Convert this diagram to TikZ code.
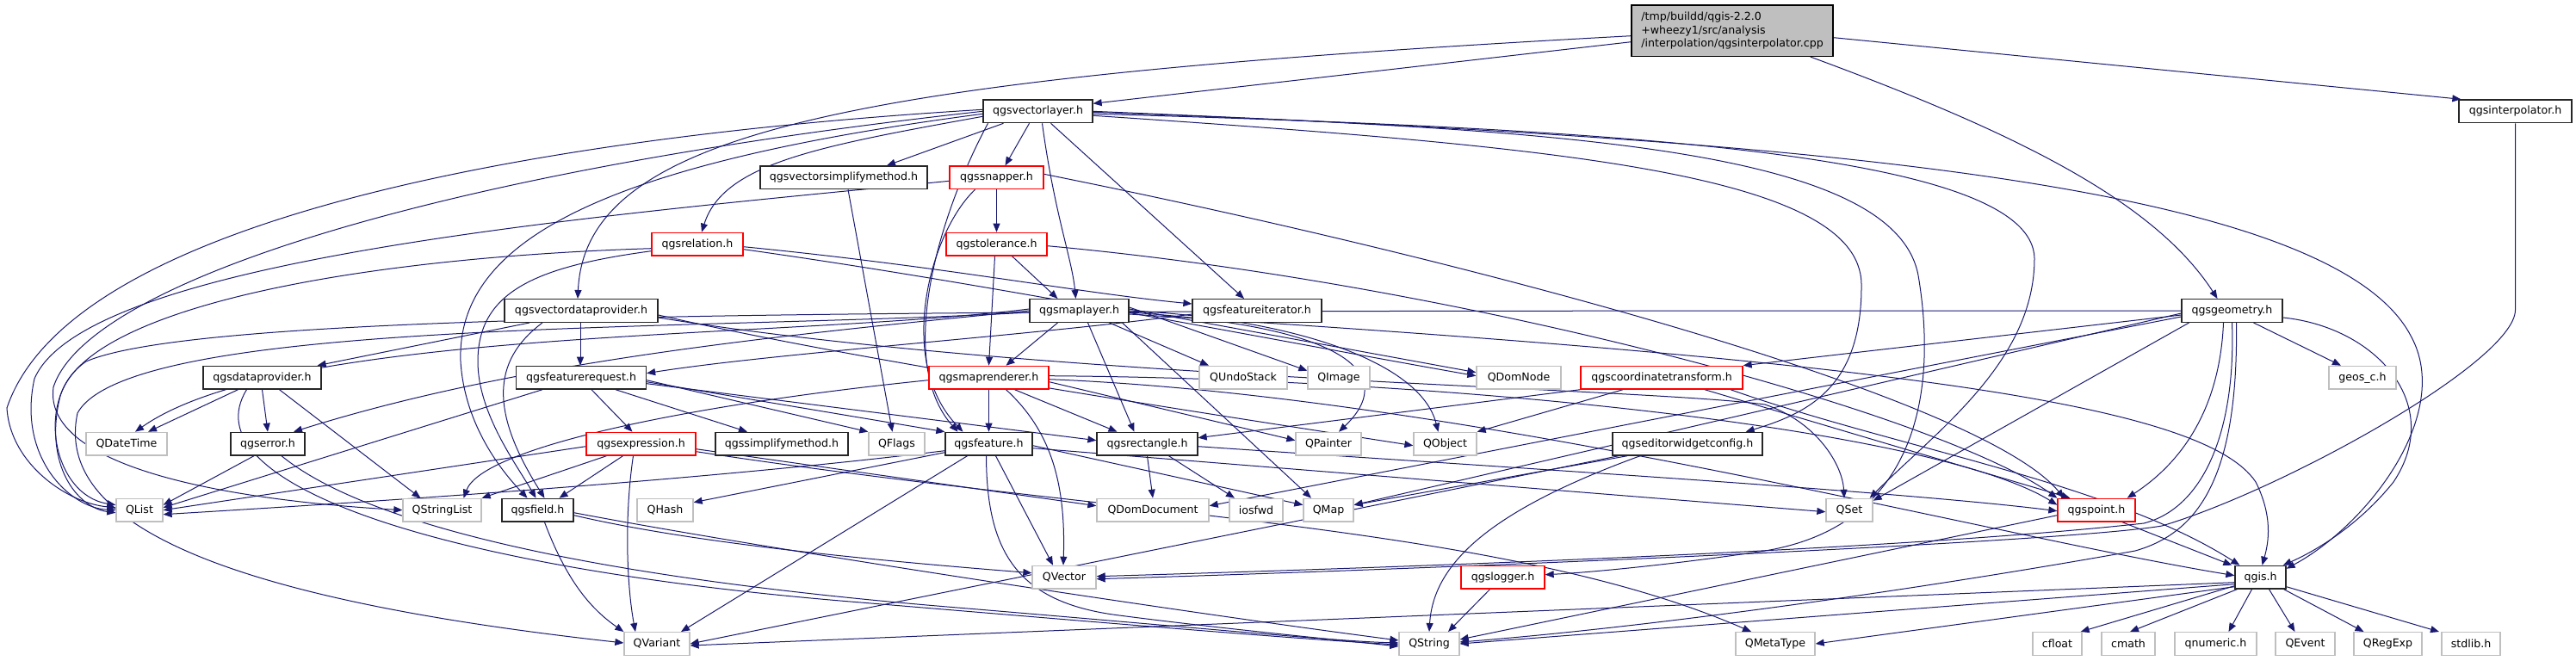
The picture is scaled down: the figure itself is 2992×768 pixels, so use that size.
\documentclass[tikz,border=0pt]{standalone}
\usepackage{fontspec}
\setmainfont{DejaVu Sans}
\usetikzlibrary{arrows.meta}
\definecolor{edgecol}{HTML}{191970}
\definecolor{extgray}{HTML}{BFBFBF}
\definecolor{redb}{HTML}{FF0000}
\newcommand\nodefont{\fontsize{12.6}{15.8}\selectfont}
\pgfdeclarelayer{bg}
\pgfdeclarelayer{edges}
\pgfsetlayers{bg,edges,main}
\tikzset{
  box/.style={rectangle, minimum height=26.7pt, inner sep=0pt, font=\nodefont, fill=white, line width=1.3pt},
  doc/.style={box, draw=black!85},
  ext/.style={box, draw=extgray},
  redbox/.style={box, draw=redb},
  e/.style={draw=edgecol, line width=1pt, -{Triangle[length=10pt,width=8pt]}},
}
\begin{document}
\begin{tikzpicture}[x=1pt,y=-1pt]
\begin{pgfonlayer}{bg}
\fill[white] (0,0) rectangle (2992,768);
\end{pgfonlayer}
\useasboundingbox (0,0) rectangle (2992,768);
% nodes
\node[box, draw=black, fill=extgray, minimum width=234pt, minimum height=59.3pt, align=left] (main) at (2012,35.7) {/tmp/buildd/qgis-2.2.0\\+wheezy1/src/analysis\\/interpolation/qgsinterpolator.cpp};
\node[doc, minimum width=127pt] (vl) at (1205.5,129.3) {qgsvectorlayer.h};
\node[doc, minimum width=131pt] (interp) at (2921.5,129.3) {qgsinterpolator.h};
\node[doc, minimum width=194pt] (vsm) at (980,206.3) {qgsvectorsimplifymethod.h};
\node[redbox, minimum width=109pt] (snap) at (1157.5,206.3) {qgssnapper.h};
\node[redbox, minimum width=106pt] (rel) at (810,283.7) {qgsrelation.h};
\node[redbox, minimum width=117pt] (tol) at (1157.5,283.7) {qgstolerance.h};
\node[doc, minimum width=178pt] (vdp) at (675,361) {qgsvectordataprovider.h};
\node[doc, minimum width=115pt] (ml) at (1253.5,361) {qgsmaplayer.h};
\node[doc, minimum width=150pt] (fit) at (1460,361) {qgsfeatureiterator.h};
\node[doc, minimum width=117pt] (geom) at (2592.5,361) {qgsgeometry.h};
\node[doc, minimum width=137pt] (dp) at (304.5,438.7) {qgsdataprovider.h};
\node[doc, minimum width=151pt] (freq) at (675,438.7) {qgsfeaturerequest.h};
\node[redbox, minimum width=139pt] (mr) at (1148.5,438.7) {qgsmaprenderer.h};
\node[ext, minimum width=102pt] (undo) at (1444,438.7) {QUndoStack};
\node[ext, minimum width=72pt] (qimg) at (1555,438.7) {QImage};
\node[ext, minimum width=98pt] (domnode) at (1764,438.7) {QDomNode};
\node[redbox, minimum width=188pt] (ct) at (1930,438.7) {qgscoordinatetransform.h};
\node[ext, minimum width=78pt] (geos) at (2744,438.7) {geos\_c.h};
\node[ext, minimum width=94pt] (datetime) at (147,515.7) {QDateTime};
\node[doc, minimum width=86pt] (err) at (311,515.7) {qgserror.h};
\node[redbox, minimum width=127pt] (expr) at (744.5,515.7) {qgsexpression.h};
\node[doc, minimum width=154pt] (simp) at (908,515.7) {qgssimplifymethod.h};
\node[ext, minimum width=65pt] (flags) at (1041.5,515.7) {QFlags};
\node[doc, minimum width=101pt] (feat) at (1148.5,515.7) {qgsfeature.h};
\node[doc, minimum width=117pt] (rect) at (1332.5,515.7) {qgsrectangle.h};
\node[ext, minimum width=76pt] (painter) at (1543,515.7) {QPainter};
\node[ext, minimum width=73pt] (qobj) at (1678.5,515.7) {QObject};
\node[doc, minimum width=174pt] (ewc) at (1960,515.7) {qgseditorwidgetconfig.h};
\node[ext, minimum width=54pt] (qlist) at (162,592.7) {QList};
\node[ext, minimum width=91pt] (strl) at (513.5,592.7) {QStringList};
\node[doc, minimum width=83pt] (field) at (624.5,592.7) {qgsfield.h};
\node[ext, minimum width=65pt] (qhash) at (772.5,592.7) {QHash};
\node[ext, minimum width=130pt] (domdoc) at (1339,592.7) {QDomDocument};
\node[ext, minimum width=62pt] (iosfwd) at (1459,592.7) {iosfwd};
\node[ext, minimum width=58pt] (qmap) at (1543,592.7) {QMap};
\node[ext, minimum width=54pt] (qset) at (2148,592.7) {QSet};
\node[redbox, minimum width=90pt] (point) at (2435,592.7) {qgspoint.h};
\node[ext, minimum width=74pt] (qvec) at (1236,670.7) {QVector};
\node[redbox, minimum width=97pt] (logger) at (1745.5,670.7) {qgslogger.h};
\node[doc, minimum width=59pt] (qgis) at (2625.5,670.7) {qgis.h};
\node[ext, minimum width=76pt] (qvar) at (763,748) {QVariant};
\node[ext, minimum width=70pt] (qstr) at (1660,748) {QString};
\node[ext, minimum width=92pt] (meta) at (2062,748) {QMetaType};
\node[ext, minimum width=57pt] (cfloat) at (2389.5,748) {cfloat};
\node[ext, minimum width=62pt] (cmath) at (2472,748) {cmath};
\node[ext, minimum width=95pt] (qnum) at (2573.5,748) {qnumeric.h};
\node[ext, minimum width=69pt] (qevent) at (2677.5,748) {QEvent};
\node[ext, minimum width=79pt] (qregexp) at (2773.5,748) {QRegExp};
\node[ext, minimum width=68pt] (stdlib) at (2870,748) {stdlib.h};

\begin{pgfonlayer}{edges}
% main
\draw[e] ([yshift=-6pt]main.west) .. controls (1000,90) and (680,150) .. ([xshift=-4pt]vdp.north);
\draw[e] ([yshift=-13pt]main.west) -- ([yshift=9pt]vl.east);
\draw[e] ([yshift=-8pt]main.east) -- ([xshift=3pt]interp.north west);
\draw[e] ([xshift=-27pt]main.south east) .. controls (2330,150) and (2500,230) .. ([xshift=-17pt]geom.north);
% interpolator
\draw[e] (interp.south) -- (2921.5,360) .. controls (2921.5,420) and (2650,570) .. (2511,611) .. controls (2400,630) and (1700,660) .. ([yshift=-2pt]qvec.east);
% vectorlayer
\draw[e] ([xshift=-40pt]vl.south) -- ([xshift=50pt]vsm.north);
\draw[e] ([xshift=-10pt]vl.south) -- ([xshift=10pt]snap.north);
\draw[e] ([xshift=5pt]vl.south) .. controls (1225,250) and (1245,300) .. ([xshift=-4pt]ml.north);
\draw[e] ([xshift=15pt]vl.south) -- ([xshift=-15pt]fit.north);
\draw[e] ([yshift=-6pt]vl.west) .. controls (950,170) and (840,190) .. ([xshift=5pt]rel.north);
\draw[e] ([yshift=2pt]vl.west) .. controls (600,160) and (80,260) .. (8,474) .. controls (12,540) and (80,585) .. ([yshift=3pt]qlist.west);
\draw[e] ([yshift=0pt]vl.west) .. controls (500,200) and (100,330) .. (62,450) .. controls (50,540) and (250,580) .. (strl.west);
\draw[e] ([yshift=-3pt]vl.west) .. controls (700,190) and (530,280) .. (535,420) .. controls (540,500) and (590,555) .. ([xshift=-12pt]field.north);
\draw[e] ([xshift=-58pt]vl.south) .. controls (1090,250) and (1040,420) .. ([xshift=-36pt]feat.north);
\draw[e] (vl.east) .. controls (2000,160) and (2700,200) .. (2800,390) .. controls (2850,480) and (2750,610) .. ([yshift=-4pt]qgis.north east);
\draw[e] ([yshift=-3pt]vl.east) .. controls (1900,150) and (2360,180) .. (2363,300) .. controls (2363,420) and (2250,500) .. ([xshift=-4pt]qset.north east);
\draw[e] ([yshift=-5pt]vl.east) .. controls (1800,170) and (2160,200) .. (2162,330) .. controls (2163,450) and (2100,480) .. ([xshift=-20pt]ewc.north east);
\draw[e] ([yshift=-1pt]vl.east) .. controls (1800,150) and (2200,170) .. (2228,320) .. controls (2250,450) and (2230,610) .. (2050,640) .. controls (1950,655) and (1850,665) .. ([yshift=3pt]logger.east);
% simplify
\draw[e] ([xshift=5pt]vsm.south) -- ([xshift=-5pt]flags.north);
% snapper
\draw[e] (snap.south) -- (tol.north);
\draw[e] ([xshift=-25pt]snap.south) .. controls (1080,270) and (1040,420) .. ([xshift=-30pt]feat.north);
\draw[e] ([yshift=-4pt]snap.west) .. controls (700,250) and (100,300) .. (40,440) .. controls (20,530) and (80,590) .. (qlist.west);
\draw[e] ([yshift=4pt]snap.east) .. controls (1700,300) and (2300,460) .. ([xshift=8pt]point.north west);
% relation
\draw[e] ([yshift=-3pt]rel.east) .. controls (1100,310) and (1250,340) .. ([yshift=8pt]fit.west);
\draw[e] ([yshift=-6pt]rel.east) .. controls (1150,330) and (1450,390) .. ([yshift=2pt]domnode.west);
\draw[e] ([yshift=-5pt]rel.west) .. controls (400,300) and (100,360) .. (70,460) .. controls (50,540) and (90,590) .. ([yshift=-3pt]qlist.west);
\draw[e] ([yshift=-8pt]rel.west) .. controls (620,310) and (555,340) .. (555,420) .. controls (555,480) and (600,540) .. ([xshift=-2pt]field.north);
% tolerance
\draw[e] ([xshift=18pt]tol.south) -- ([xshift=-25pt]ml.north);
\draw[e] ([xshift=-2pt]tol.south) -- (mr.north);
\draw[e] ([yshift=-2pt]tol.east) .. controls (1700,330) and (2250,480) .. (point.north west);
% vectordataprovider
\draw[e] ([xshift=-60pt]vdp.south) -- ([xshift=-5pt]dp.north east);
\draw[e] ([xshift=-1pt]vdp.south) -- ([xshift=-1pt]freq.north);
\draw[e] ([xshift=-45pt]vdp.south) .. controls (570,420) and (570,480) .. ([xshift=8pt]field.north);
\draw[e] ([yshift=-5pt]vdp.east) .. controls (1000,420) and (1400,480) .. ([yshift=-2pt]qobj.west);
\draw[e] ([yshift=-8pt]vdp.east) .. controls (1200,440) and (1900,450) .. (2050,470) .. controls (2110,490) and (2140,540) .. ([xshift=-6pt]qset.north);
% maplayer
\draw[e] ([xshift=-25pt]ml.south) -- ([xshift=20pt]mr.north);
\draw[e] ([xshift=35pt]ml.south) -- ([xshift=-40pt]undo.north);
\draw[e] ([yshift=4pt]ml.east) -- ([yshift=8pt]qimg.west);
\draw[e] ([yshift=2pt]ml.east) -- ([yshift=6pt]domnode.west);
\draw[e] ([xshift=10pt]ml.south) -- ([xshift=-15pt]rect.north);
\draw[e] (ml.east) .. controls (1500,370) and (1650,420) .. ([xshift=-8pt]qobj.north);
\draw[e] ([yshift=-2pt]ml.east) .. controls (1580,380) and (1620,440) .. ([xshift=12pt]painter.north);
\draw[e] ([yshift=2pt]ml.west) .. controls (900,395) and (330,380) .. ([xshift=10pt]datetime.north);
\draw[e] ([yshift=0pt]ml.west) .. controls (900,390) and (600,420) .. ([xshift=30pt]err.north);
\draw[e] ([yshift=-2pt]ml.west) .. controls (800,385) and (150,370) .. (90,480) .. controls (60,620) and (300,700) .. ([yshift=1pt]qvar.west);
\draw[e] ([xshift=50pt]ml.south) -- ([xshift=-20pt]qmap.north);
\draw[e] ([yshift=-4pt]ml.east) .. controls (2200,420) and (2560,470) .. (2620,560) .. controls (2640,600) and (2635,630) .. ([xshift=2pt]qgis.north);
% featureiterator
\draw[e] ([yshift=-4pt]fit.west) .. controls (1200,390) and (900,410) .. ([yshift=5pt]freq.east);
% geometry
\draw[e] ([yshift=-5pt]geom.west) -- (ct.north east);
\draw[e] ([xshift=25pt]geom.south) -- ([xshift=-25pt]geos.north);
\draw[e] ([yshift=-8pt]geom.east) .. controls (2760,380) and (2840,470) .. (2780,560) .. controls (2740,610) and (2690,640) .. ([xshift=-4pt]qgis.north east);
\draw[e] ([xshift=-10pt]geom.south) .. controls (2578,480) and (2530,540) .. ([xshift=-10pt]point.north east);
\draw[e] ([xshift=-50pt]geom.south) -- ([yshift=-3pt]qset.north east);
\draw[e] ([yshift=-3pt]geom.west) -- ([yshift=6pt]qmap.east);
\draw[e] ([yshift=-7pt]geom.west) -- ([yshift=5pt]domdoc.east);
\draw[e] ([xshift=5pt]geom.south) .. controls (2600,560) and (2550,620) .. (2480,640) .. controls (2200,690) and (1900,730) .. ([yshift=2pt]qstr.east);
\draw[e] ([xshift=0pt]geom.south) .. controls (2597,500) and (2560,590) .. (2490,608) .. controls (2200,640) and (1600,660) .. ([yshift=1pt]qvec.east);
\draw[e] (geom.west) .. controls (1200,362) and (250,355) .. (100,420) .. controls (40,460) and (60,575) .. ([yshift=6pt]qlist.west);
% dataprovider
\draw[e] ([xshift=-28pt]dp.south) -- ([xshift=25pt]datetime.north);
\draw[e] (dp.south) -- (err.north);
\draw[e] ([xshift=20pt]dp.south) -- ([xshift=-25pt]strl.north);
\draw[e] ([xshift=-18pt]dp.south) .. controls (220,560) and (500,660) .. (1000,700) .. controls (1300,725) and (1500,742) .. ([yshift=-1pt]qstr.west);
% featurerequest
\draw[e] ([xshift=12pt]freq.south) -- ([xshift=-10pt]expr.north);
\draw[e] ([xshift=40pt]freq.south) -- ([xshift=-40pt]simp.north);
\draw[e] ([xshift=-45pt]freq.south) -- ([yshift=3pt]qlist.east);
\draw[e] ([yshift=-3pt]freq.east) -- (flags.north west);
\draw[e] ([yshift=-5pt]freq.east) -- (feat.north west);
\draw[e] ([yshift=-7pt]freq.east) -- ([yshift=4pt]rect.west);
% maprenderer
\draw[e] (mr.south) -- (feat.north);
\draw[e] ([xshift=30pt]mr.south) -- ([xshift=-35pt]rect.north);
\draw[e] ([xshift=20pt]mr.south) .. controls (1220,500) and (1238,560) .. ([xshift=-1pt]qvec.north);
\draw[e] ([yshift=-3pt]mr.west) .. controls (800,470) and (560,520) .. ([xshift=25pt]strl.north);
\draw[e] ([yshift=-5pt]mr.east) -- ([yshift=4pt]painter.west);
\draw[e] ([yshift=-2pt]mr.east) .. controls (1700,460) and (2300,620) .. ([yshift=2pt]qgis.west);
\draw[e] ([yshift=2pt]mr.east) .. controls (1700,440) and (2250,500) .. ([yshift=6pt]point.west);
% error
\draw[e] ([xshift=-16pt]err.south) -- ([yshift=6pt]qlist.east);
\draw[e] ([xshift=16pt]err.south) .. controls (450,630) and (800,680) .. (1100,705) .. controls (1400,730) and (1550,745) .. ([yshift=1pt]qstr.west);
% expression
\draw[e] ([xshift=-40pt]expr.south) -- (strl.north east);
\draw[e] ([xshift=-21pt]expr.south) -- ([xshift=25pt]field.north);
\draw[e] ([yshift=-3pt]expr.west) -- (qlist.east);
\draw[e] ([xshift=-9pt]expr.south) .. controls (725,600) and (728,680) .. ([xshift=-25pt]qvar.north);
\draw[e] ([yshift=-6pt]expr.east) -- ([yshift=5pt]domdoc.west);
\draw[e] ([yshift=-9pt]expr.east) .. controls (1300,600) and (1750,610) .. ([xshift=-28pt]meta.north);
% feature
\draw[e] ([yshift=-8pt]feat.west) .. controls (800,560) and (400,585) .. ([yshift=-5pt]qlist.east);
\draw[e] ([yshift=-10pt]feat.west) -- ([yshift=-5pt]qhash.north east);
\draw[e] ([xshift=-25pt]feat.south) -- ([xshift=28pt]qvar.north);
\draw[e] ([xshift=8pt]feat.south) -- ([xshift=-13pt]qvec.north);
\draw[e] ([xshift=-3pt]feat.south) .. controls (1146,640) and (1180,700) .. (1300,715) .. controls (1400,728) and (1500,738) .. ([yshift=-3pt]qstr.west);
\draw[e] ([yshift=-2pt]feat.east) -- ([yshift=6pt]qmap.west);
\draw[e] ([yshift=-5pt]feat.east) -- ([yshift=-2pt]qset.west);
% rectangle
\draw[e] (rect.south) -- (domdoc.north);
\draw[e] ([xshift=25pt]rect.south) -- ([xshift=-25pt]iosfwd.north);
\draw[e] ([yshift=-3pt]rect.east) .. controls (1700,540) and (2200,570) .. ([yshift=-1pt]point.west);
% coordinatetransform
\draw[e] ([xshift=-45pt]ct.south) -- (qobj.north east);
\draw[e] (ct.south west) -- ([yshift=7pt]rect.east);
\draw[e] ([xshift=50pt]ct.south) -- ([xshift=15pt]point.north west);
\draw[e] ([xshift=80pt]ct.south) .. controls (2200,520) and (2450,560) .. ([xshift=6pt]qgis.north west);
% editorwidgetconfig
\draw[e] ([xshift=-70pt]ewc.south) -- ([yshift=6pt]qmap.east);
\draw[e] ([xshift=-80pt]ewc.south) -- (qvar.east);
\draw[e] ([xshift=-55pt]ewc.south) .. controls (1740,590) and (1665,650) .. ([xshift=0pt]qstr.north);
% field
\draw[e] ([xshift=8pt]field.south) .. controls (660,680) and (690,710) .. (qvar.north west);
\draw[e] ([yshift=-3pt]field.east) .. controls (900,640) and (1400,715) .. ([yshift=4pt]qstr.west);
\draw[e] ([yshift=-6pt]field.east) .. controls (800,630) and (1000,650) .. ([yshift=5pt]qvec.west);
% point
\draw[e] ([xshift=30pt]point.south) -- ([xshift=-3pt]qgis.north west);
\draw[e] ([yshift=-6pt]point.west) -- ([yshift=5pt]qstr.east);
% qgis
\draw[e] ([yshift=-6pt]qgis.west) -- ([yshift=-2pt]qvar.east);
\draw[e] ([yshift=-8pt]qgis.west) -- ([yshift=0pt]qstr.east);
\draw[e] ([yshift=-11pt]qgis.west) -- (meta.east);
\draw[e] ([yshift=4pt]qgis.south west) -- ([xshift=-2pt]cfloat.north east);
\draw[e] ([xshift=3pt]qgis.south west) -- ([xshift=2pt]cmath.north);
\draw[e] ([xshift=-10pt]qgis.south) -- ([xshift=15pt]qnum.north);
\draw[e] ([xshift=10pt]qgis.south) -- ([xshift=-12pt]qevent.north);
\draw[e] ([xshift=-3pt]qgis.south east) -- ([xshift=-28pt]qregexp.north);
\draw[e] ([yshift=3pt]qgis.south east) -- ([xshift=-37pt]stdlib.north);
% logger
\draw[e] ([xshift=-15pt]logger.south) -- ([xshift=22pt]qstr.north);
\end{pgfonlayer}
\end{tikzpicture}
\end{document}
